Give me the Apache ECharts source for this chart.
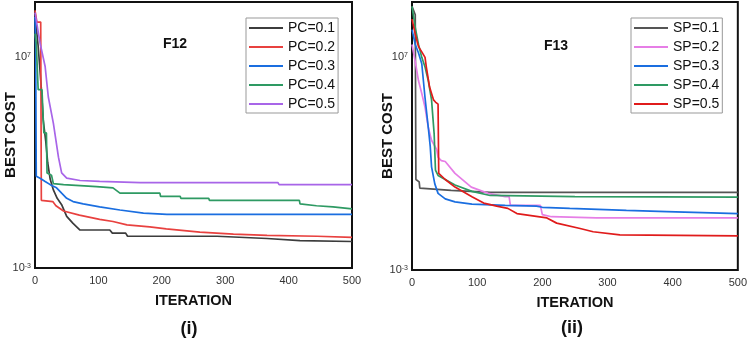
<!DOCTYPE html>
<html>
<head>
<meta charset="utf-8">
<script src="https://cdn.jsdelivr.net/npm/echarts@6/dist/echarts.min.js"></script>
<style>
  html, body, #main { width: 750px; height: 345px; margin: 0; background: #fff; }
</style>
</head>
<body>
<div id="main"></div>
<script>
// [iteration, best cost]

// (i) F12
var pc01 = [[0, 1e9], [5, 3.2e7], [10, 3.2e5], [13, 1e4], [17, 1e3], [20, 100], [24, 16], [29, 5.0], [35, 2.0], [42, 1.0],
  [50, 0.28], [60, 0.13], [71, 0.063], [118, 0.063], [122, 0.045], [143, 0.045], [146, 0.032], [287, 0.032],
  [366, 0.025], [418, 0.02], [500, 0.018]];
var pc02 = [[0, 1.6e9], [3, 4.5e8], [9, 4.5e8], [10, 1.6], [12, 1.4], [28, 1.4], [33, 0.89], [45, 0.5], [70, 0.32],
  [102, 0.2], [123, 0.16], [145, 0.11], [181, 0.089], [207, 0.071], [260, 0.05], [313, 0.04], [366, 0.035],
  [445, 0.032], [500, 0.028]];
var pc03 = [[0, 7.9e8], [1, 3.2e7], [2, 22], [8, 18], [16, 12.6], [24, 8.9], [34, 6.3], [42, 3.5], [50, 2.0], [60, 1.4],
  [76, 1.1], [102, 0.79], [134, 0.56], [171, 0.4], [208, 0.35], [500, 0.35]];
var pc04 = [[0, 1.26e8], [2, 4.5e7], [4, 4.5e7], [5, 2.8e5], [11, 2.8e5], [14, 2.5e3], [18, 2.5e3], [19, 32], [26, 25],
  [29, 10], [45, 8.9], [97, 7.1], [123, 6.3], [134, 3.5], [197, 3.5], [198, 2.5], [229, 2.5], [230, 2.0], [274, 2.0],
  [275, 1.6], [417, 1.6], [418, 1.1], [444, 0.89], [470, 0.79], [500, 0.63]];
var pc05 = [[0, 1.26e9], [8, 4.5e7], [16, 3.5e6], [21, 1.26e5], [29, 7.1e3], [37, 178], [42, 32], [50, 18], [71, 14],
  [102, 12.6], [166, 11.2], [383, 11.2], [385, 8.9], [500, 8.9]];

// (ii) F13
var sp01 = [[0, 2.5e9], [5, 1e9], [6, 18], [11, 14], [12, 7.1], [60, 5.6], [120, 4.5], [500, 4.5]];
var sp02 = [[0, 4e7], [5, 6.3e6], [10, 7.9e5], [15, 2e5], [20, 4.5e4], [25, 5e3], [30, 1.26e3], [38, 450], [40, 200],
  [45, 140], [51, 126], [66, 35], [91, 7.9], [117, 4.0], [143, 2.8], [149, 2.8], [151, 1.1], [197, 1.1], [200, 0.4],
  [214, 0.32], [283, 0.28], [500, 0.28]];
var sp03 = [[0, 2e8], [5, 4e7], [10, 1.6e7], [15, 5e6], [20, 1.26e5], [25, 5e3], [28, 630], [30, 71], [35, 11.2], [40, 4.0],
  [51, 2.2], [66, 1.6], [92, 1.26], [143, 1.1], [191, 1.0], [200, 0.89], [242, 0.79], [329, 0.63], [391, 0.56], [500, 0.45]];
var sp04 = [[0, 2.5e9], [5, 2.5e8], [10, 4e7], [15, 1e7], [20, 3.5e6], [25, 7.9e5], [30, 1e5], [34, 2.5e3], [36, 50],
  [40, 28], [66, 10], [92, 5.0], [120, 3.2], [250, 2.8], [500, 2.7]];
var sp05 = [[0, 6.3e8], [5, 1.26e8], [10, 3.2e7], [15, 1.8e7], [20, 1e7], [22, 3.5e6], [27, 4e5], [30, 2e5], [33, 1e5],
  [36, 7.9e4], [40, 6.3e4], [41, 35], [51, 18], [66, 7.9], [80, 4.5], [92, 2.8], [110, 1.4], [130, 1.0], [147, 0.79],
  [161, 0.45], [207, 0.28], [222, 0.16], [258, 0.089], [278, 0.063], [319, 0.045], [500, 0.04]];

var pcNames = ['PC=0.1', 'PC=0.2', 'PC=0.3', 'PC=0.4', 'PC=0.5'];
var spNames = ['SP=0.1', 'SP=0.2', 'SP=0.3', 'SP=0.4', 'SP=0.5'];
var pcColors = ['#3c3c3c', '#e8413f', '#1a6ee0', '#2e9a63', '#a865e8'];
var spColors = ['#555555', '#e67ee6', '#1a6ee0', '#2e9a63', '#e01b1b'];
var xTicks = [0, 100, 200, 300, 400, 500];

var FONT = '"Liberation Sans", Arial, sans-serif';
var chart = echarts.init(document.getElementById('main'));

function xAx(gi) {
  return {
    type: 'value', gridIndex: gi, min: xTicks[0], max: xTicks[xTicks.length - 1], interval: 100,
    name: 'ITERATION', nameLocation: 'middle', nameGap: 25,
    nameTextStyle: { fontFamily: FONT, fontWeight: 'bold', fontSize: 14.5, color: '#111' },
    axisLine: { show: false }, axisTick: { show: false }, splitLine: { show: false },
    axisLabel: { fontFamily: FONT, fontSize: 11, color: '#333', margin: 7 }
  };
}
function yAx(gi) {
  return {
    type: 'log', logBase: 10, gridIndex: gi, min: 1e-3, max: 4e9, interval: 10,
    name: 'BEST COST', nameLocation: 'middle', nameGap: 17, nameMoveOverlap: false,
    nameTextStyle: { fontFamily: FONT, fontWeight: 'bold', fontSize: 15, color: '#111' },
    axisLine: { show: false }, axisTick: { show: false }, splitLine: { show: false },
    axisLabel: {
      showMaxLabel: false, margin: 4, fontFamily: FONT, fontSize: 11, color: '#333',
      formatter: function (v) {
        var e = Math.round(Math.log10(v));
        if (Math.abs(Math.log10(v) - e) > 0.01) return '';
        return '10{e|' + e + '}';
      },
      rich: { e: { fontSize: 7, verticalAlign: 'top', fontFamily: FONT, color: '#333' } }
    }
  };
}
function mkSeries(names, colors, sets, gi) {
  return sets.map(function (d, i) {
    return {
      name: names[i], type: 'line', xAxisIndex: gi, yAxisIndex: gi, data: d,
      showSymbol: false, symbol: 'none', color: colors[i],
      lineStyle: { width: 1.7, color: colors[i] }
    };
  });
}
function mkLegend(names, left) {
  return {
    data: names, orient: 'vertical', left: left, top: 18, icon: 'rect', itemWidth: 34, itemHeight: 2,
    itemGap: 5, padding: [3, 3, 2, 3], backgroundColor: '#fff', borderColor: '#999', borderWidth: 1,
    textStyle: { fontFamily: FONT, fontSize: 14, color: '#111', lineHeight: 14 }
  };
}
function label(text, x, y, size) {
  return {
    type: 'text', x: x, y: y, z: 10,
    style: { text: text, font: 'bold ' + size + 'px ' + FONT, fill: '#111', align: 'center', verticalAlign: 'middle' }
  };
}

chart.setOption({
  animation: false,
  backgroundColor: '#fff',
  grid: [
    { left: 35, top: 2, width: 317, height: 266, show: true, borderColor: '#111', borderWidth: 2, backgroundColor: '#fff' },
    { left: 412, top: 2, width: 326, height: 268, show: true, borderColor: '#111', borderWidth: 2, backgroundColor: '#fff' }
  ],
  xAxis: [xAx(0), xAx(1)],
  yAxis: [yAx(0), yAx(1)],
  legend: [mkLegend(pcNames, 246), mkLegend(spNames, 631)],
  graphic: [
    label('F12', 175, 44, 14),
    label('F13', 556, 46, 14),
    label('(i)', 189, 329, 18),
    label('(ii)', 572, 328, 18)
  ],
  series: mkSeries(pcNames, pcColors, [pc01, pc02, pc03, pc04, pc05], 0)
    .concat(mkSeries(spNames, spColors, [sp01, sp02, sp03, sp04, sp05], 1))
});
</script>
</body>
</html>
